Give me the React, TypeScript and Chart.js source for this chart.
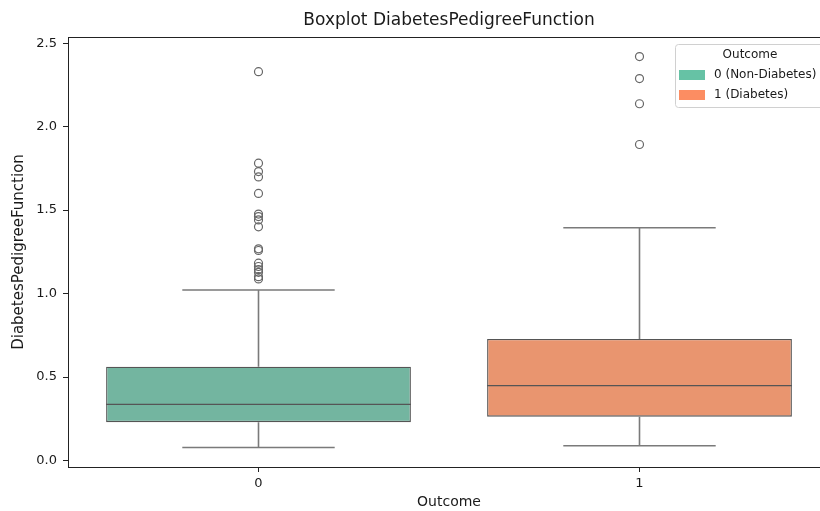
import React, { useEffect, useRef } from "react";
import { Chart, registerables } from "chart.js";

Chart.register(...registerables);

// Box statistics per outcome group
const categories = ["0", "1"];
const legendLabels = ["0 (Non-Diabetes)", "1 (Diabetes)"];
const q1Values = [0.2298, 0.2625];
const medianValues = [0.336, 0.449];
const q3Values = [0.5618, 0.728];
const whiskerLow = [0.078, 0.088];
const whiskerHigh = [1.021, 1.394];
const outliers0 = [2.329, 1.781, 1.731, 1.699, 1.6, 1.476, 1.461, 1.441, 1.4, 1.268, 1.258, 1.182, 1.162, 1.144, 1.127, 1.101, 1.088];
const outliers1 = [2.42, 2.288, 2.137, 1.893];
const yTicks = [0, 0.5, 1.0, 1.5, 2.0, 2.5];

const boxFill = ["#73b5a0", "#e9956f"];
const legendFill = ["#66c2a5", "#fc8d62"];
const FONT = "'DejaVu Sans', sans-serif";

const boxDecor = {
  id: "boxDecor",
  afterDatasetsDraw(chart: any) {
    const { ctx } = chart;
    const x = chart.scales.x;
    const y = chart.scales.y;
    const meta = chart.getDatasetMeta(0);
    ctx.save();
    categories.forEach((c, i) => {
      const cx = x.getPixelForValue(i);
      const w = meta.data[i].width;
      const cap = w / 4;
      ctx.strokeStyle = "#7a7a7a";
      ctx.lineWidth = 1.6;
      ctx.beginPath();
      ctx.moveTo(cx, y.getPixelForValue(q3Values[i]));
      ctx.lineTo(cx, y.getPixelForValue(whiskerHigh[i]));
      ctx.moveTo(cx - cap, y.getPixelForValue(whiskerHigh[i]));
      ctx.lineTo(cx + cap, y.getPixelForValue(whiskerHigh[i]));
      ctx.moveTo(cx, y.getPixelForValue(q1Values[i]));
      ctx.lineTo(cx, y.getPixelForValue(whiskerLow[i]));
      ctx.moveTo(cx - cap, y.getPixelForValue(whiskerLow[i]));
      ctx.lineTo(cx + cap, y.getPixelForValue(whiskerLow[i]));
      ctx.stroke();
      ctx.strokeStyle = "#555555";
      ctx.lineWidth = 1.3;
      ctx.beginPath();
      const my = y.getPixelForValue(medianValues[i]);
      ctx.moveTo(cx - w / 2, my);
      ctx.lineTo(cx + w / 2, my);
      ctx.stroke();
    });
    ctx.restore();
  },
  afterDraw(chart: any) {
    const { ctx, chartArea } = chart;
    ctx.save();
    // axes frame
    ctx.strokeStyle = "#222";
    ctx.lineWidth = 1;
    ctx.strokeRect(chartArea.left + 0.5, chartArea.top + 0.5, chartArea.right - chartArea.left, chartArea.bottom - chartArea.top);
    // legend
    const bx = chartArea.right - 155;
    const by = chartArea.top + 7;
    const bw = 151;
    const bh = 63;
    ctx.beginPath();
    ctx.roundRect(bx + 0.5, by + 0.5, bw, bh, 3);
    ctx.fillStyle = "rgba(255,255,255,0.8)";
    ctx.fill();
    ctx.strokeStyle = "#d0d0d0";
    ctx.stroke();
    ctx.fillStyle = "#1a1a1a";
    ctx.font = `12px ${FONT}`;
    ctx.textAlign = "center";
    ctx.textBaseline = "middle";
    ctx.fillText("Outcome", bx + 75, by + 11);
    ctx.textAlign = "left";
    legendLabels.forEach((t, i) => {
      const ry = by + 31 + i * 20;
      ctx.fillStyle = legendFill[i];
      ctx.fillRect(bx + 4, ry - 5, 26, 10);
      ctx.fillStyle = "#1a1a1a";
      ctx.fillText(t, bx + 39, ry);
    });
    ctx.restore();
  },
};

export default function App() {
  const ref = useRef<HTMLCanvasElement>(null);
  useEffect(() => {
    if (!ref.current) return;
    const chart = new Chart(ref.current, {
      type: "bar",
      data: {
        labels: categories,
        datasets: [
          {
            type: "bar",
            data: categories.map((_, i) => [q1Values[i], q3Values[i]]) as any,
            backgroundColor: boxFill,
            borderColor: "#555555",
            borderWidth: 1.3,
            borderSkipped: false,
            categoryPercentage: 0.8,
            barPercentage: 1,
          },
          {
            type: "scatter",
            data: [
              ...outliers0.map((v) => ({ x: categories[0], y: v })),
              ...outliers1.map((v) => ({ x: categories[1], y: v })),
            ] as any,
            pointRadius: 4,
            pointBorderWidth: 1.2,
            pointBackgroundColor: "rgba(0,0,0,0)",
            pointBorderColor: "#666666",
          },
        ],
      },
      options: {
        animation: false,
        responsive: false,
        devicePixelRatio: 1,
        layout: { padding: { left: 0, right: 20, top: 0, bottom: 0 } },
        plugins: {
          legend: { display: false },
          tooltip: { enabled: false },
          title: {
            display: true,
            fullSize: false,
            text: "Boxplot DiabetesPedigreeFunction",
            color: "#1a1a1a",
            font: { family: FONT, size: 17, weight: "normal" },
            padding: { top: 10, bottom: 6.6 },
          },
        },
        scales: {
          x: {
            type: "category",
            offset: true,
            border: { display: false },
            grid: { display: true, offset: false, drawOnChartArea: false, drawTicks: true, tickLength: 5, tickColor: "#222" },
            ticks: { color: "#1a1a1a", font: { family: FONT, size: 13 }, padding: 4 },
            title: {
              display: true,
              text: "Outcome",
              color: "#1a1a1a",
              font: { family: FONT, size: 14 },
              padding: { top: 0, bottom: 0 },
            },
            afterFit: (s: any) => {
              s.height = 44;
            },
          },
          y: {
            type: "linear",
            min: -0.039,
            max: 2.537,
            border: { display: false },
            grid: { display: true, drawOnChartArea: false, drawTicks: true, tickLength: 5, tickColor: "#222" },
            ticks: {
              color: "#1a1a1a",
              font: { family: FONT, size: 13 },
              padding: 6,
              callback: (v: any) => Number(v).toFixed(1),
            },
            afterBuildTicks: (s: any) => {
              s.ticks = yTicks.map((v) => ({ value: v }));
            },
            title: {
              display: true,
              text: "DiabetesPedigreeFunction",
              color: "#1a1a1a",
              font: { family: FONT, size: 15 },
              padding: { top: 10, bottom: 0 },
            },
            afterFit: (s: any) => {
              s.width = 68;
            },
          },
        },
      },
      plugins: [boxDecor],
    });
    return () => chart.destroy();
  }, []);
  return (
    <div style={{ position: "fixed", left: 0, top: 0, width: 820, height: 511, overflow: "hidden", background: "#fff" }}>
      <canvas ref={ref} width={850} height={511} style={{ display: "block", width: 850, height: 511 }} />
    </div>
  );
}
